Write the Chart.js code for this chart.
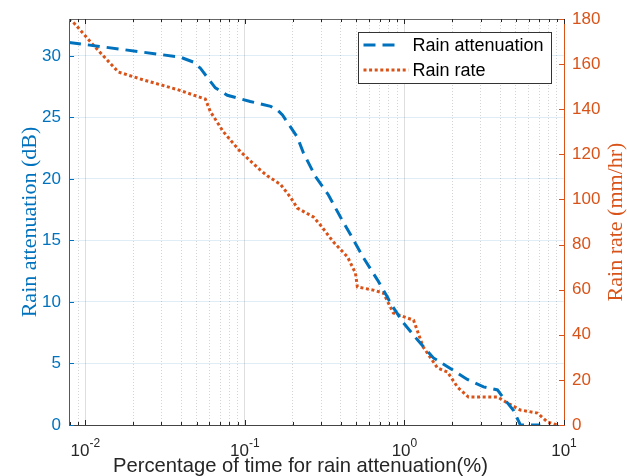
<!DOCTYPE html>
<html><head><meta charset="utf-8">
<script src="https://cdn.jsdelivr.net/npm/chart.js@4"></script>
<style>html,body{margin:0;padding:0;background:#fff}canvas{display:block}</style>
</head><body>
<canvas id="c" width="627" height="476"></canvas>
<script>
// ---- data ----
const attenX = [0.0079, 0.0394, 0.0475, 0.0526, 0.0653, 0.0776, 0.108, 0.145, 0.16, 0.172, 0.213, 0.233, 0.277, 0.334, 0.397, 0.472, 0.553, 0.677, 0.782, 0.817, 0.986, 1.21, 1.52, 1.94, 2.48, 3.13, 3.83, 4.11, 4.82, 5.33, 7.1];
const attenY = [31.1, 29.9, 29.5, 29.0, 27.4, 26.8, 26.3, 25.9, 25.6, 25.2, 23.4, 22.1, 20.2, 18.7, 16.9, 15.2, 13.6, 11.8, 10.4, 9.9, 8.3, 6.9, 5.45, 4.6, 3.7, 3.1, 2.85, 2.3, 1.2, 0, 0];
const rateX = [0.0079, 0.0084, 0.0112, 0.0137, 0.0161, 0.0231, 0.0378, 0.0565, 0.0608, 0.0733, 0.0937, 0.125, 0.138, 0.167, 0.193, 0.213, 0.269, 0.297, 0.359, 0.44, 0.493, 0.507, 0.639, 0.738, 0.853, 1.14, 1.31, 1.61, 1.86, 2.15, 2.52, 3.83, 4.43, 5.33, 6.82, 7.88, 9.1];
const rateY = [180, 178.6, 168.5, 161.8, 156.5, 153, 148.7, 144.5, 138.9, 130, 121.2, 113, 110.5, 106.7, 101, 96.2, 92.2, 88.7, 81.1, 74.5, 67.4, 61.2, 59.8, 58.5, 49.6, 46.5, 34.6, 25.3, 23.5, 16.8, 12.4, 12.4, 9.75, 6.65, 5.3, 1.33, 0];
const xMajorTicks = [0.01, 0.1, 1, 10];
const xMajorExp = ['-2', '-1', '0', '1'];
const xMinorTicks = [0.008, 0.009, 0.02, 0.03, 0.04, 0.05, 0.06, 0.07, 0.08, 0.09, 0.2, 0.3, 0.4, 0.5, 0.6, 0.7, 0.8, 0.9, 2, 3, 4, 5, 6, 7, 8, 9];
const yLeftTicks = [0, 5, 10, 15, 20, 25, 30];
const yRightTicks = [0, 20, 40, 60, 80, 100, 120, 140, 160, 180];
const labels = ['Rain attenuation', 'Rain rate'];
const xTitle = 'Percentage of time for rain attenuation(%)';
const yLeftTitle = 'Rain attenuation (dB)';
const yRightTitle = 'Rain rate (mm/hr)';

const BLUE = '#0072BD', ORANGE = '#D95319', DARK = '#262626';
const SANS = '"Liberation Sans", Arial, Helvetica, sans-serif';
const SERIF = '"Liberation Serif", "Times New Roman", serif';

const decor = {
  id: 'decor',
  afterDraw(chart) {
    const ctx = chart.ctx, a = chart.chartArea;
    const xs = chart.scales.x, yl = chart.scales.y, yr = chart.scales.y2;
    ctx.save();
    // top box line
    ctx.strokeStyle = '#666'; ctx.lineWidth = 1;
    ctx.beginPath(); ctx.moveTo(a.left, a.top + 0.5); ctx.lineTo(a.right, a.top + 0.5); ctx.stroke();
    // inward ticks x
    ctx.strokeStyle = DARK;
    const tick = (v, len) => {
      const p = Math.round(xs.getPixelForValue(v)) + 0.5;
      ctx.beginPath();
      ctx.moveTo(p, a.bottom); ctx.lineTo(p, a.bottom - len);
      ctx.moveTo(p, a.top); ctx.lineTo(p, a.top + len);
      ctx.stroke();
    };
    xMajorTicks.forEach(v => tick(v, 5));
    xMinorTicks.forEach(v => tick(v, 3));
    ctx.strokeStyle = BLUE;
    yLeftTicks.forEach(v => { const p = Math.round(yl.getPixelForValue(v)) + 0.5; ctx.beginPath(); ctx.moveTo(a.left, p); ctx.lineTo(a.left + 5, p); ctx.stroke(); });
    ctx.strokeStyle = ORANGE;
    yRightTicks.forEach(v => { const p = Math.round(yr.getPixelForValue(v)) + 0.5; ctx.beginPath(); ctx.moveTo(a.right, p); ctx.lineTo(a.right - 5, p); ctx.stroke(); });
    // x tick labels with superscript
    ctx.fillStyle = DARK; ctx.textBaseline = 'alphabetic';
    xMajorTicks.forEach((v, i) => {
      const p = xs.getPixelForValue(v);
      ctx.font = '17px ' + SANS; const w1 = ctx.measureText('10').width;
      ctx.font = '12px ' + SANS; const w2 = ctx.measureText(xMajorExp[i]).width;
      const x0 = p - (w1 + w2) / 2;
      ctx.font = '17px ' + SANS; ctx.textAlign = 'left'; ctx.fillText('10', x0, a.bottom + 31);
      ctx.font = '12px ' + SANS; ctx.fillText(xMajorExp[i], x0 + w1, a.bottom + 22);
    });
    // axis titles
    ctx.textAlign = 'center'; ctx.textBaseline = 'middle';
    ctx.font = '20.2px ' + SANS; ctx.fillStyle = DARK;
    ctx.fillText(xTitle, (a.left + a.right) / 2 - 16, 466);
    ctx.font = '22px ' + SERIF;
    ctx.fillStyle = BLUE;
    ctx.save(); ctx.translate(30, (a.top + a.bottom) / 2); ctx.rotate(-Math.PI / 2); ctx.fillText(yLeftTitle, 0, 0); ctx.restore();
    ctx.fillStyle = ORANGE;
    ctx.save(); ctx.translate(616, (a.top + a.bottom) / 2); ctx.rotate(-Math.PI / 2); ctx.fillText(yRightTitle, 0, 0); ctx.restore();
    // legend
    const bx = 358.5, by = 32.5, bw = 193, bh = 51;
    ctx.fillStyle = '#fff'; ctx.fillRect(bx, by, bw, bh);
    ctx.strokeStyle = '#333'; ctx.lineWidth = 1; ctx.strokeRect(bx, by, bw, bh);
    chart.data.datasets.forEach((ds, i) => {
      const yy = by + 12.5 + i * 25;
      ctx.save();
      ctx.strokeStyle = ds.borderColor; ctx.lineWidth = ds.borderWidth; ctx.setLineDash(ds.borderDash);
      ctx.beginPath(); ctx.moveTo(bx + 5, yy); ctx.lineTo(bx + (i === 0 ? 42 : 50), yy); ctx.stroke();
      ctx.restore();
      ctx.fillStyle = '#000'; ctx.font = '18px ' + SANS; ctx.textAlign = 'left'; ctx.textBaseline = 'middle';
      ctx.fillText(ds.label, bx + 54, yy + 1);
    });
    ctx.restore();
  }
};

new Chart(document.getElementById('c'), {
  type: 'line',
  data: {
    datasets: [
      { label: labels[0], data: attenX.map((x, i) => ({ x, y: attenY[i] })), yAxisID: 'y', xAxisID: 'x',
        borderColor: BLUE, borderWidth: 3, borderDash: [12, 7], pointRadius: 0, fill: false, tension: 0 },
      { label: labels[1], data: rateX.map((x, i) => ({ x, y: rateY[i] })), yAxisID: 'y2', xAxisID: 'x',
        borderColor: ORANGE, borderWidth: 3, borderDash: [3, 2.6], pointRadius: 0, fill: false, tension: 0 }
    ]
  },
  options: {
    responsive: false, animation: false, devicePixelRatio: 1,
    layout: { padding: 0 },
    plugins: { legend: { display: false }, tooltip: { enabled: false } },
    scales: {
      x: {
        type: 'logarithmic', position: 'bottom', min: 0.0079, max: 10,
        afterBuildTicks: s => { s.ticks = xMajorTicks.map(v => ({ value: v })); },
        afterFit: s => { s.height = 51; },
        ticks: { display: false },
        grid: { color: '#dedede', drawTicks: false, lineWidth: 1 },
        border: { color: '#444', width: 1 }
      },
      xm: {
        type: 'logarithmic', position: 'top', min: 0.0079, max: 10,
        afterBuildTicks: s => { s.ticks = xMinorTicks.map(v => ({ value: v })); },
        afterFit: s => { s.height = 19; },
        ticks: { display: false },
        grid: { color: '#d4d4d4', drawTicks: false, lineWidth: 1 },
        border: { display: false, dash: [1, 2] }
      },
      y: {
        type: 'linear', position: 'left', min: 0, max: 33,
        afterBuildTicks: s => { s.ticks = yLeftTicks.map(v => ({ value: v })); },
        afterFit: s => { s.width = 69; },
        ticks: { color: BLUE, padding: 8, font: { size: 17, family: SANS } },
        grid: { color: 'rgba(0,114,189,0.13)', drawTicks: false },
        border: { color: BLUE, width: 1 }
      },
      y2: {
        type: 'linear', position: 'right', min: 0, max: 180,
        afterBuildTicks: s => { s.ticks = yRightTicks.map(v => ({ value: v })); },
        afterFit: s => { s.width = 63; },
        ticks: { color: ORANGE, padding: 8, font: { size: 17, family: SANS } },
        grid: { drawOnChartArea: false, drawTicks: false },
        border: { color: ORANGE, width: 1 }
      }
    }
  },
  plugins: [decor]
});
</script>
</body></html>
